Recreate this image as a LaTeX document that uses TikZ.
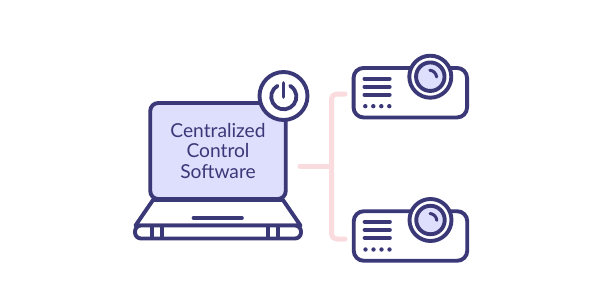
\documentclass[tikz,border=0pt]{standalone}
\usepackage{fontspec}
\usetikzlibrary{calc}
\setmainfont{Lato}
\definecolor{ink}{HTML}{3B3878}
\definecolor{lav}{HTML}{DEDEFD}
\definecolor{rose}{HTML}{FADCDE}
\tikzset{
  every picture/.style={x=1pt,y=-1pt},
  ink line/.style={draw=ink,line width=3.9pt,line cap=round,line join=round},
  thin ink/.style={draw=ink,line width=3.6pt,line cap=round},
  screenbox/.style={ink line,fill=lav,rounded corners=8pt,minimum width=135.5pt,minimum height=96pt,inner sep=0pt,align=center,text=ink,font=\fontsize{19.2}{20.7}\selectfont},
  bodybox/.style={ink line,fill=white,rounded corners=10pt,minimum width=113.5pt,minimum height=49.5pt,inner sep=0pt},
  lensring/.style={circle,ink line,fill=white,minimum size=42pt,inner sep=0pt},
  lenscore/.style={circle,ink line,fill=lav,minimum size=28.5pt,inner sep=0pt},
  badge/.style={circle,ink line,fill=white,minimum size=48pt,inner sep=0pt},
  link/.style={draw=rose,line width=5pt,line cap=round,line join=round,rounded corners=5pt},
  dot/.style={circle,fill=ink,minimum size=4.4pt,inner sep=0pt},
}
\newcommand{\projector}[3]{%
  % #1 = node prefix, #2 = x of body centre, #3 = y of body centre
  \node[bodybox] (#1) at (#2,#3) {};
  \node[lensring] (#1ring) at ($(#1.center)+(20,-16)$) {};
  \node[lenscore] (#1core) at (#1ring.center) {};
  \draw[ink line,line width=3pt] ($(#1core.center)+(-0.5,-6.5)$) arc[start angle=-85,end angle=-5,radius=7.5];
  \foreach \dy in {-14,-6,2} {
    \draw[thin ink] ($(#1.center)+(-46,\dy)$) -- ++(25.5,0);
  }
  \foreach \dx in {-45,-37,-29,-21} {
    \node[dot] at ($(#1.center)+(\dx,13.5)$) {};
  }
}
\begin{document}
\begin{tikzpicture}
\useasboundingbox[fill=white] (0,0) rectangle (600,300);

% links between the laptop and the two projectors
\coordinate (hub) at (331.5,166);
\coordinate (lapout) at (300,166);
\coordinate (topend) at (345,94);
\coordinate (botend) at (345,239);
\draw[link] (lapout) -- (hub);
\draw[link] (topend) -- (topend -| hub) -- (botend -| hub) -- (botend);

% laptop base
\coordinate (hingeL) at (153,200);
\coordinate (hingeR) at (283,200);
\draw[ink line,fill=white] (hingeL) -- (135.5,225.5) -- (300.5,225.5) -- (hingeR) -- cycle;
\draw[ink line,fill=white,rounded corners=6pt] (135,225.5) -- (135,238.5) -- (301,238.5) -- (301,225.5) -- cycle;
\draw[ink line,line cap=butt] (152.3,225.5) -- (152.3,238.5) (161.7,225.5) -- (161.7,238.5)
  (268.3,225.5) -- (268.3,238.5) (277.7,225.5) -- (277.7,238.5);
\draw[thin ink] (193.5,218) -- (242,218);

% laptop screen
\node[screenbox] (screen) at (218,151) {Centralized\\Control\\Software};

% power badge
\node[badge] (power) at (283.5,96) {};
\draw[ink line,line width=3.8pt] ($(power.center)+(-6,-10.2)$) arc[start angle=240,end angle=-60,radius=12.6];
\draw[ink line,line width=3.8pt] ($(power.center)+(0,-13)$) -- ($(power.center)+(0,1)$);

% projectors
\projector{projA}{410.3}{92.7}
\projector{projB}{410.5}{236}
\end{tikzpicture}
\end{document}
